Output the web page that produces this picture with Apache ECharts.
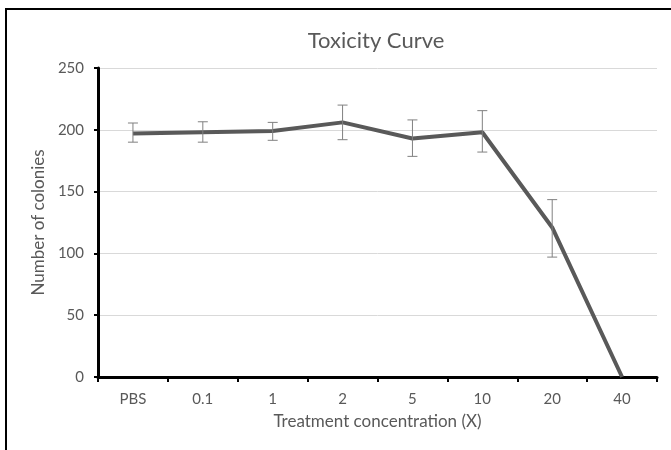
<!DOCTYPE html>
<html><head><meta charset="utf-8">
<script src="https://cdn.jsdelivr.net/npm/echarts@6/dist/echarts.min.js"></script>
<style>
html,body{margin:0;padding:0;background:#fff;}
#c{width:671px;height:450px;}
#frame{position:absolute;left:5px;top:8px;width:700px;height:460px;border-top:2px solid #000;border-left:2px solid #000;pointer-events:none;}
</style></head>
<body>
<div id="c"></div>
<div id="frame"></div>
<script>
const categories = ['PBS','0.1','1','2','5','10','20','40'];
const values = [197, 198, 199, 206, 193, 198, 121, 0];
const errLow = [190, 190, 191.5, 192, 178.5, 182, 97, 0];
const errHigh = [205.5, 206.5, 206, 220, 208, 215.5, 143.5, 0];
const yTicks = [0, 50, 100, 150, 200, 250];

const font = 'Lato, "Open Sans", sans-serif';
const chart = echarts.init(document.getElementById('c'));
chart.setOption({
  animation: false,
  title: {text: 'Toxicity Curve', left: 371, top: 25, textAlign: 'center',
    textStyle: {fontFamily: font, fontSize: 22, fontWeight: 'normal', color: '#595959'}},
  grid: {left: 98, right: 14, top: 68, bottom: 73},
  xAxis: {
    type: 'category', data: categories, boundaryGap: true,
    name: 'Treatment concentration (X)', nameLocation: 'middle', nameGap: 36,
    nameTextStyle: {fontFamily: font, fontSize: 17, color: '#595959'},
    axisLine: {lineStyle: {color: '#000', width: 3}},
    axisTick: {show: true, length: 5, inside: false, lineStyle: {color: '#000', width: 2}},
    axisLabel: {fontFamily: font, fontSize: 15, color: '#595959', margin: 15},
    splitLine: {show: false}
  },
  yAxis: {
    type: 'value', min: yTicks[0], max: yTicks[yTicks.length-1], interval: 50,
    name: 'Number of colonies', nameLocation: 'middle', nameGap: 50, nameRotate: 90,
    nameTextStyle: {fontFamily: font, fontSize: 17, color: '#595959'},
    axisLine: {show: true, lineStyle: {color: '#000', width: 3}},
    axisTick: {show: true, length: 4, lineStyle: {color: '#000', width: 2}},
    axisLabel: {fontFamily: font, fontSize: 15, color: '#595959', margin: 14},
    splitLine: {lineStyle: {color: '#d9d9d9', width: 1}}
  },
  series: [
    {type: 'line', data: values, symbol: 'none', z: 3,
     lineStyle: {color: '#595959', width: 4}},
    {type: 'custom', z: 4,
     data: categories.map((c, i) => [i, errLow[i], errHigh[i]]),
     renderItem: function(params, api) {
       const lo = api.coord([api.value(0), api.value(1)]);
       const hi = api.coord([api.value(0), api.value(2)]);
       if (Math.abs(lo[1]-hi[1]) < 0.5) return null;
       const w = 5;
       const st = {stroke: '#808080', lineWidth: 1};
       return {type: 'group', children: [
         {type: 'line', shape: {x1: hi[0], y1: hi[1], x2: lo[0], y2: lo[1]}, style: st},
         {type: 'line', shape: {x1: hi[0]-w, y1: hi[1], x2: hi[0]+w, y2: hi[1]}, style: st},
         {type: 'line', shape: {x1: lo[0]-w, y1: lo[1], x2: lo[0]+w, y2: lo[1]}, style: st}
       ]};
     }}
  ]
});
</script>
</body></html>
